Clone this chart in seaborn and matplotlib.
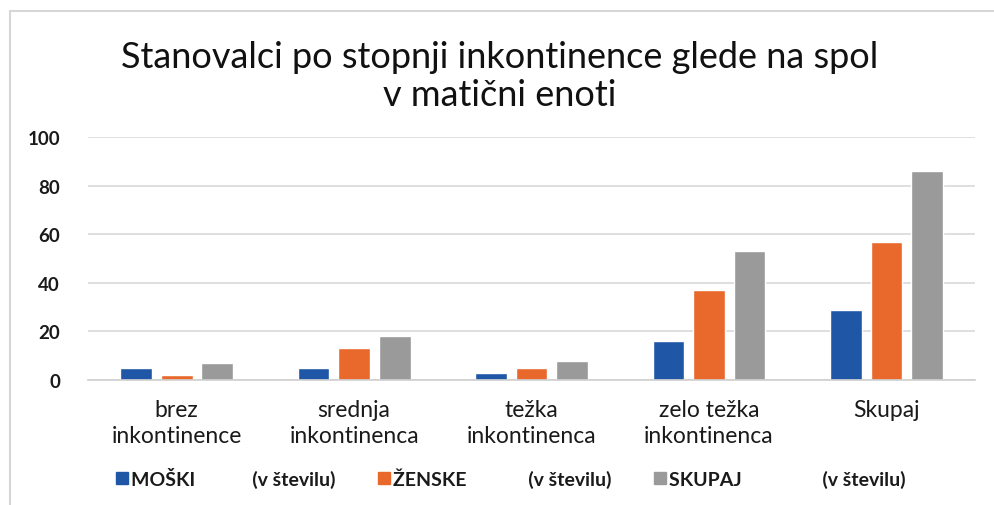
import matplotlib
matplotlib.use("Agg")
import matplotlib.pyplot as plt
import seaborn as sns
import pandas as pd
from matplotlib.lines import Line2D

categories = ["brez\ninkontinence", "srednja\ninkontinenca", "težka\ninkontinenca",
              "zelo težka\ninkontinenca", "Skupaj"]
series = ["MOŠKI", "ŽENSKE", "SKUPAJ"]
moski = [5, 5, 3, 16, 29]
zenske = [2, 13, 5, 37, 57]
skupaj = [7, 18, 8, 53, 86]
yticks = [0, 20, 40, 60, 80, 100]
title = "Stanovalci po stopnji inkontinence glede na spol\nv matični enoti"
unit = "(v številu)"
legend_gaps = [12, 13, 17]

colors = ["#1f56a6", "#e9692c", "#9a9a9a"]

rows = []
for s, vals in zip(series, [moski, zenske, skupaj]):
    for c, v in zip(categories, vals):
        rows.append({"kategorija": c, "serija": s, "vrednost": v})
df = pd.DataFrame(rows)

sns.set_theme(style="white")
plt.rcParams["font.family"] = ["Lato", "DejaVu Sans"]

fig = plt.figure(figsize=(9.94, 5.06), dpi=100)
ax = fig.add_axes([0.0885, 0.247, 0.8925, 0.480])

sns.barplot(data=df, x="kategorija", y="vrednost", hue="serija",
            palette=colors, width=0.686, gap=0.22, ax=ax, legend=False,
            saturation=1)

ax.set_ylim(0, 100)
ax.set_yticks(yticks)
ax.set_yticklabels([str(t) for t in yticks], fontsize=13.5, color="#1a1a1a",
                   fontweight="bold")
ax.tick_params(axis="y", length=0, pad=20)
ax.tick_params(axis="x", length=0, pad=14, labelsize=16.5, labelcolor="#1a1a1a")
for lab in ax.get_xticklabels():
    lab.set_linespacing(1.25)
ax.set_xlabel("")
ax.set_ylabel("")
ax.yaxis.grid(True, color="#d9d9d9", linewidth=1.2)
ax.set_axisbelow(True)
for sp in ["top", "right", "left"]:
    ax.spines[sp].set_visible(False)
ax.spines["bottom"].set_color("#cfcfcf")
ax.spines["bottom"].set_linewidth(1.2)

fig.text(0.503, 0.849, title, ha="center", va="center", fontsize=26,
         color="#111111", linespacing=1.2)

# legend
handles = [Line2D([], [], marker="s", linestyle="none", markersize=8.5,
                  markerfacecolor=c, markeredgecolor=c) for c in colors]
labels = [f"{s}{' ' * g}{unit}" for s, g in zip(series, legend_gaps)]
leg = fig.legend(handles, labels, loc="center", bbox_to_anchor=(0.514, 0.055),
                 ncol=3, frameon=False, handletextpad=0.15,
                 columnspacing=2.2, handlelength=0.6,
                 prop={"size": 14, "weight": "bold"})
for t in leg.get_texts():
    t.set_color("#1a1a1a")

# scanned page border
fig.add_artist(Line2D([0.01, 0.01], [0, 0.976], color="#d6d6d6", linewidth=1.5,
                      transform=fig.transFigure))
fig.add_artist(Line2D([0.01, 1.0], [0.976, 0.976], color="#d6d6d6", linewidth=1.5,
                      transform=fig.transFigure))

fig.savefig("out.png", dpi=100)
